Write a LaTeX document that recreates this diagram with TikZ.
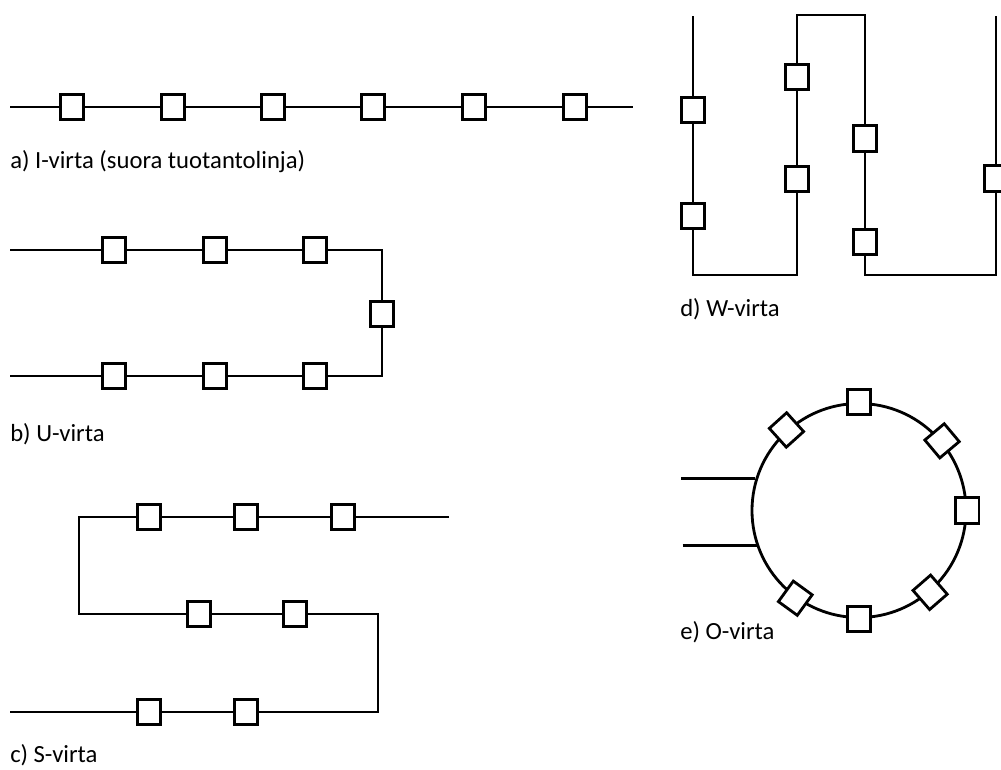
\documentclass[tikz,border=0pt]{standalone}
\usepackage{fontspec}
\setmainfont{Carlito}
\begin{document}
\begin{tikzpicture}[x=0.75pt,y=-0.75pt,
  flow/.style={line width=2.1pt},
  station/.style={draw,line width=2.1pt,fill=white,rectangle,minimum width=17.5pt,minimum height=19pt,inner sep=0pt},
  caption/.style={anchor=west,inner sep=0pt,font=\fontsize{18.5}{22}\selectfont}]
\useasboundingbox (0,0) rectangle (1001,769);

% ---------- a) I-virta ----------
\coordinate (aS) at (10,107);
\coordinate (aE) at (633,107);
\foreach \i/\x in {1/72,2/173,3/273,4/373,5/474,6/575}{
  \node[station] (a\i) at (\x,107) {};
}
\draw[flow] (aS) -- (a1) -- (a2) -- (a3) -- (a4) -- (a5) -- (a6) -- (aE);
\node[caption] (la) at (10,162) {a) I-virta (suora tuotantolinja)};

% ---------- b) U-virta ----------
\coordinate (uS) at (10,250);
\coordinate (uE) at (10,376);
\coordinate (uC1) at (382,250);
\coordinate (uC2) at (382,376);
\node[station] (u1) at (114,250) {};
\node[station] (u2) at (215,250) {};
\node[station] (u3) at (315,250) {};
\node[station] (uv) at (382,314) {};
\node[station] (ub3) at (315,376) {};
\node[station] (ub2) at (215,376) {};
\node[station] (ub1) at (114,376) {};
\draw[flow] (uS) -- (u1) -- (u2) -- (u3) -- (uC1) -- (uv) -- (uC2) -- (ub3) -- (ub2) -- (ub1) -- (uE);
\node[caption] (lb) at (10,434) {b) U-virta};

% ---------- c) S-virta ----------
\coordinate (sE) at (449,517);
\coordinate (sC1) at (79,517);
\coordinate (sC2) at (79,614);
\coordinate (sC3) at (378,614);
\coordinate (sC4) at (378,712);
\coordinate (sS) at (10,712);
\node[station] (s1) at (149,517) {};
\node[station] (s2) at (246,517) {};
\node[station] (s3) at (343,517) {};
\node[station] (m1) at (199,614) {};
\node[station] (m2) at (295,614) {};
\node[station] (t1) at (149,712) {};
\node[station] (t2) at (246,712) {};
\draw[flow] (sE) -- (s3) -- (s2) -- (s1) -- (sC1) -- (sC2) -- (m1) -- (m2) -- (sC3) -- (sC4) -- (t2) -- (t1) -- (sS);
\node[caption] (lc) at (10,755) {c) S-virta};

% ---------- d) W-virta ----------
\coordinate (wS) at (693,16);
\coordinate (wC1) at (693,275);
\coordinate (wC2) at (797,275);
\coordinate (wC3) at (797,15);
\coordinate (wC4) at (865,15);
\coordinate (wC5) at (865,275);
\coordinate (wC6) at (996,275);
\coordinate (wE) at (996,16);
\node[station] (w1) at (693,110) {};
\node[station] (w2) at (693,216) {};
\node[station] (w3) at (797,77) {};
\node[station] (w4) at (797,179) {};
\node[station] (w5) at (865,138.5) {};
\node[station] (w6) at (865,242) {};
\node[station] (w7) at (996,178.5) {};
\draw[flow] (wS) -- (w1) -- (w2) -- (wC1) -- (wC2) -- (w4) -- (w3) -- (wC3) -- (wC4) -- (w5) -- (w6) -- (wC5) -- (wC6) -- (w7) -- (wE);
\node[caption] (ld) at (680,309) {d) W-virta};

% ---------- e) O-virta ----------
\node[draw,circle,line width=2.1pt,minimum size=160.5pt,inner sep=0pt] (ring) at (859,510.5) {};
\path (ring.163.2) ++(-74,0) coordinate (in1);
\path (ring.199.2) ++(-74,0) coordinate (in2);
\draw[flow] (in1) -- (ring.163.2);
\draw[flow] (in2) -- (ring.199.2);
\foreach \n/\a in {o1/90,o2/0,o3/270}{
  \node[station] (\n) at (ring.\a) {};
}
\foreach \n/\a in {o4/132,o5/40,o6/234,o7/311}{
  \node[station,rotate=\a-90] (\n) at (ring.\a) {};
}
\node[caption] (le) at (680,632) {e) O-virta};
\end{tikzpicture}
\end{document}
